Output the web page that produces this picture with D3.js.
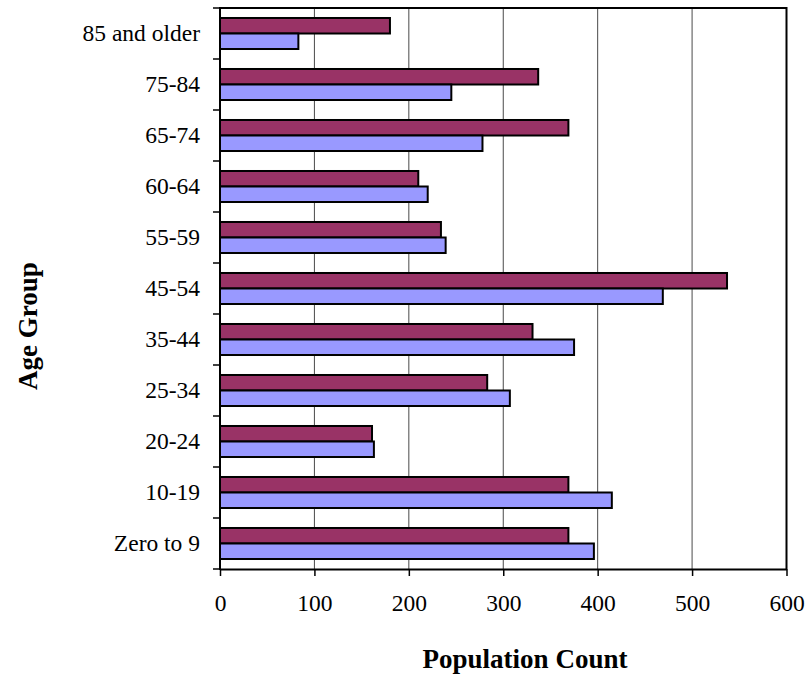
<!DOCTYPE html>
<html>
<head>
<meta charset="utf-8">
<script src="https://cdn.jsdelivr.net/npm/d3@7"></script>
<style>
  html, body { margin: 0; padding: 0; background: #fff; }
  svg { display: block; }
</style>
</head>
<body>
<svg id="chart" width="808" height="675"></svg>
<script>
// ── Data ──
const ageGroups = [
  "85 and older", "75-84", "65-74", "60-64", "55-59", "45-54",
  "35-44", "25-34", "20-24", "10-19", "Zero to 9"
];
const seriesMaroon = [180, 337, 369, 210, 234, 537, 331, 283, 161, 369, 369];
const seriesBlue   = [83, 245, 278, 220, 239, 469, 375, 307, 163, 415, 396];
const xTicks = [0, 100, 200, 300, 400, 500, 600];
const seriesKeys = ["maroon", "blue"];
const seriesColors = { maroon: "#993366", blue: "#9999FF" };

const FONT = "'Liberation Serif', 'Times New Roman', serif";

const rows = ageGroups.map((g, i) => ({
  group: g,
  maroon: seriesMaroon[i],
  blue: seriesBlue[i],
}));

// ── Layout ──
const plot = { left: 220, right: 786.5, top: 8, bottom: 569 };

const svg = d3.select("#chart");

const x = d3.scaleLinear().domain([0, 600]).range([plot.left, plot.right]);
const y = d3.scaleBand().domain(ageGroups)
  .range([plot.top, plot.bottom])
  .paddingInner(0.392).paddingOuter(0.196);
const ySub = d3.scaleBand().domain(seriesKeys).range([0, y.bandwidth()]);

// ── Gridlines ──
svg.append("g").selectAll("line")
  .data(xTicks.slice(1, -1)).join("line")
  .attr("x1", d => x(d)).attr("x2", d => x(d))
  .attr("y1", plot.top).attr("y2", plot.bottom)
  .attr("stroke", "#4a4a4a").attr("stroke-width", 1);

// ── Plot border (top / right) ──
svg.append("path")
  .attr("d", `M${plot.left},${plot.top}H${plot.right}V${plot.bottom}`)
  .attr("fill", "none").attr("stroke", "#000").attr("stroke-width", 2);

// ── Bars ──
const groupEls = svg.append("g").selectAll("g")
  .data(rows).join("g")
  .attr("transform", d => `translate(0,${y(d.group)})`);

groupEls.selectAll("rect")
  .data(d => seriesKeys.map(k => ({ key: k, value: d[k] }))).join("rect")
  .attr("x", x(0))
  .attr("y", d => ySub(d.key))
  .attr("width", d => x(d.value) - x(0))
  .attr("height", ySub.bandwidth())
  .attr("fill", d => seriesColors[d.key])
  .attr("stroke", "#000").attr("stroke-width", 2);

// ── X axis ──
const xAxis = svg.append("g")
  .attr("transform", `translate(0,${plot.bottom})`)
  .call(d3.axisBottom(x).tickValues(xTicks).tickSize(7).tickSizeOuter(0).tickPadding(18));
xAxis.select(".domain").attr("stroke", "#000").attr("stroke-width", 2);
xAxis.selectAll(".tick line").attr("stroke", "#000").attr("stroke-width", 1.5);
xAxis.selectAll(".tick text")
  .attr("font-family", FONT).attr("font-size", "23.5px").attr("fill", "#000");

// ── Y axis: ticks between categories, labels centred on bands ──
const boundaries = d3.range(ageGroups.length + 1).map(i => plot.top + i * y.step());
svg.append("g").selectAll("line")
  .data(boundaries).join("line")
  .attr("x1", plot.left - 7).attr("x2", plot.left)
  .attr("y1", d => d).attr("y2", d => d)
  .attr("stroke", "#000").attr("stroke-width", 1.5);

svg.append("line")
  .attr("x1", plot.left).attr("x2", plot.left)
  .attr("y1", plot.top - 1).attr("y2", plot.bottom + 1)
  .attr("stroke", "#000").attr("stroke-width", 2);

svg.append("g").selectAll("text")
  .data(ageGroups).join("text")
  .attr("x", plot.left - 20)
  .attr("y", d => y(d) + y.bandwidth() / 2)
  .attr("dy", "0.3em")
  .attr("text-anchor", "end")
  .attr("font-family", FONT).attr("font-size", "23.5px").attr("fill", "#000")
  .text(d => d);

// ── Axis titles ──
svg.append("text")
  .attr("x", 525).attr("y", 668)
  .attr("text-anchor", "middle")
  .attr("font-family", FONT).attr("font-size", "27px").attr("font-weight", "bold")
  .text("Population Count");

svg.append("text")
  .attr("transform", "translate(37,326) rotate(-90)")
  .attr("text-anchor", "middle")
  .attr("font-family", FONT).attr("font-size", "27px").attr("font-weight", "bold")
  .text("Age Group");
</script>
</body>
</html>
